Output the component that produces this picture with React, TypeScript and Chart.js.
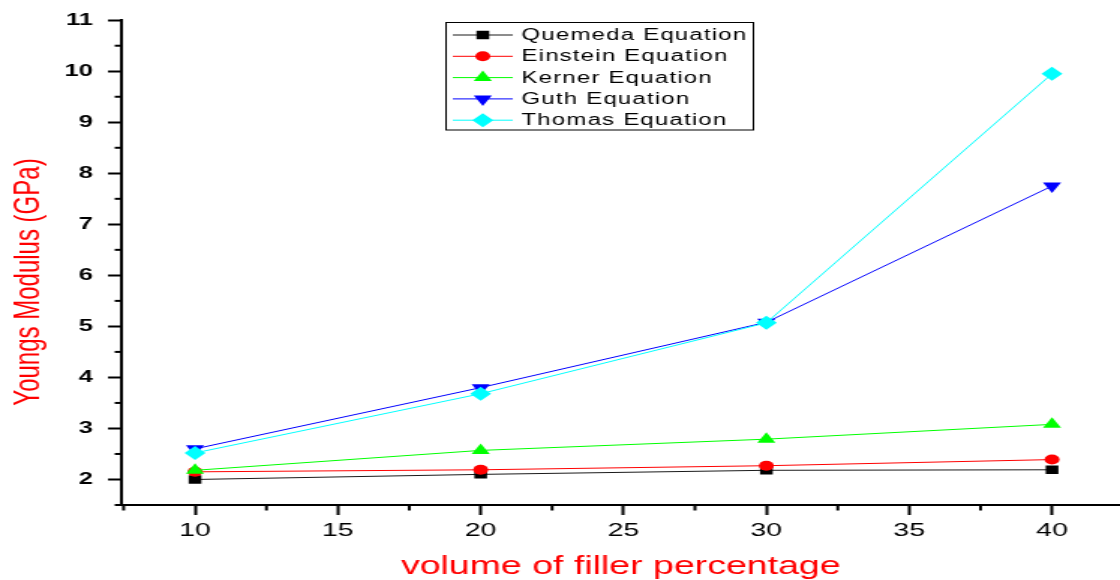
import React, { useEffect, useRef } from 'react';
import { Chart, registerables } from 'chart.js';

Chart.register(...registerables);

// ---- data ----
const X_VALUES = [10, 20, 30, 40];
const QUEMEDA = [2.0, 2.1, 2.18, 2.19];
const EINSTEIN = [2.15, 2.19, 2.27, 2.39];
const KERNER = [2.18, 2.57, 2.79, 3.08];
const GUTH = [2.6, 3.8, 5.08, 7.75];
const THOMAS = [2.52, 3.68, 5.07, 9.95];
const SERIES_NAMES = ['Quemeda Equation', 'Einstein Equation', 'Kerner Equation', 'Guth Equation', 'Thomas Equation'];
const X_TICKS = [10, 15, 20, 25, 30, 35, 40];
const Y_TICKS = [2, 3, 4, 5, 6, 7, 8, 9, 10, 11];
const X_TITLE = 'volume of filler percentage';
const Y_TITLE = 'Youngs Modulus (GPa)';

// ---- styles ----
const COLORS = ['#000000', '#ff0000', '#00ff00', '#0000ff', '#00ffff'];
const LINE_COLORS = ['#1a1a1a', '#ff0000', '#00ff00', '#0000ff', '#00ffff'];
const POINT_STYLES = ['rect', 'circle', 'triangle', 'triangle', 'rectRot'];
const POINT_RADII = [6, 5, 7, 7, 7];
const POINT_ROT = [0, 0, 0, 180, 0];

const CANVAS_W = 747;
const CANVAS_H = 580;
const STRETCH = 1120 / CANVAS_W;

function drawMarker(ctx: CanvasRenderingContext2D, style: string, x: number, y: number, r: number, rotDeg: number) {
  ctx.beginPath();
  if (style === 'circle') {
    ctx.arc(x, y, r, 0, Math.PI * 2);
  } else if (style === 'rect') {
    const s = r * Math.SQRT1_2;
    ctx.rect(x - s, y - s, 2 * s, 2 * s);
  } else if (style === 'rectRot') {
    ctx.moveTo(x, y - r);
    ctx.lineTo(x + r, y);
    ctx.lineTo(x, y + r);
    ctx.lineTo(x - r, y);
    ctx.closePath();
  } else {
    let a = (rotDeg * Math.PI) / 180;
    ctx.moveTo(x + Math.sin(a) * r, y - Math.cos(a) * r);
    a += (2 * Math.PI) / 3;
    ctx.lineTo(x + Math.sin(a) * r, y - Math.cos(a) * r);
    a += (2 * Math.PI) / 3;
    ctx.lineTo(x + Math.sin(a) * r, y - Math.cos(a) * r);
    ctx.closePath();
  }
  ctx.fill();
}

const decorPlugin = {
  id: 'decor',
  afterDraw(chart: any) {
    const { ctx, chartArea, scales } = chart;
    const xs = scales.x;
    const ys = scales.y;
    ctx.save();
    // minor ticks
    ctx.strokeStyle = '#000';
    ctx.lineWidth = 2;
    Y_TICKS.forEach((v) => {
      const m = v - 0.5;
      if (m < ys.min - 1e-9 || m > ys.max) return;
      const py = ys.getPixelForValue(m);
      ctx.beginPath();
      ctx.moveTo(chartArea.left - 4.5, py);
      ctx.lineTo(chartArea.left, py);
      ctx.stroke();
    });
    X_TICKS.forEach((v) => {
      const m = v - 2.5;
      if (m < xs.min - 1e-9 || m > xs.max) return;
      const px = xs.getPixelForValue(m);
      ctx.beginPath();
      ctx.moveTo(px, chartArea.bottom);
      ctx.lineTo(px, chartArea.bottom + 5.5);
      ctx.stroke();
    });

    // y axis title
    ctx.save();
    ctx.translate(25.5, 282);
    ctx.rotate(-Math.PI / 2);
    ctx.fillStyle = '#ff0000';
    ctx.font = '24px Arial, "Liberation Sans", sans-serif';
    ctx.textAlign = 'center';
    ctx.textBaseline = 'alphabetic';
    ctx.fillText(Y_TITLE, 0, 0);
    ctx.restore();

    // legend
    const bx = 297.5, by = 22.5, bw = 205, bh = 107.5;
    ctx.fillStyle = '#ffffff';
    ctx.fillRect(bx, by, bw, bh);
    ctx.strokeStyle = '#000';
    ctx.lineWidth = 1;
    ctx.strokeRect(bx, by, bw, bh);
    chart.data.datasets.forEach((ds: any, i: number) => {
      const yy = 35 + i * 21.3;
      ctx.strokeStyle = LINE_COLORS[i];
      ctx.lineWidth = 1;
      ctx.beginPath();
      ctx.moveTo(302, yy);
      ctx.lineTo(342, yy);
      ctx.stroke();
      ctx.fillStyle = COLORS[i];
      drawMarker(ctx, POINT_STYLES[i], 322, yy, POINT_RADII[i], POINT_ROT[i]);
      ctx.fillStyle = '#000';
      ctx.font = '16px Arial, "Liberation Sans", sans-serif';
      (ctx as any).letterSpacing = '0.8px';
      ctx.textAlign = 'left';
      ctx.textBaseline = 'middle';
      ctx.fillText(ds.label, 347.8, yy + 0.5);
      (ctx as any).letterSpacing = '0px';
    });
    ctx.restore();
  },
};

export default function App() {
  const ref = useRef<HTMLCanvasElement | null>(null);

  useEffect(() => {
    if (!ref.current) return;
    const series = [QUEMEDA, EINSTEIN, KERNER, GUTH, THOMAS];
    const chart = new Chart(ref.current, {
      type: 'line',
      data: {
        datasets: series.map((vals, i) => ({
          label: SERIES_NAMES[i],
          data: X_VALUES.map((x, j) => ({ x, y: vals[j] })),
          borderColor: LINE_COLORS[i],
          backgroundColor: COLORS[i],
          borderWidth: 1,
          pointStyle: POINT_STYLES[i] as any,
          pointRadius: POINT_RADII[i],
          pointRotation: POINT_ROT[i],
          pointBackgroundColor: COLORS[i],
          pointBorderColor: COLORS[i],
          pointBorderWidth: 0,
          tension: 0,
          fill: false,
          order: 4 - i,
        })),
      },
      options: {
        responsive: false,
        animation: false,
        events: [],
        layout: { autoPadding: false, padding: { top: 20, left: 0, right: 0, bottom: 0 } },
        plugins: {
          legend: { display: false },
          tooltip: { enabled: false },
          title: { display: false },
        },
        scales: {
          x: {
            type: 'linear',
            min: 7.425,
            max: 42.38,
            afterFit: (s: any) => {
              s.height = 75;
            },
            afterBuildTicks: (s: any) => {
              s.ticks = X_TICKS.map((v) => ({ value: v }));
            },
            border: { display: true, color: '#000', width: 2 },
            grid: {
              display: true,
              drawOnChartArea: false,
              drawTicks: true,
              tickLength: 10,
              tickWidth: 2,
              tickColor: '#000',
            },
            ticks: {
              color: '#000',
              font: { family: 'Arial', size: 19, weight: 'normal' },
              padding: 4,
              maxRotation: 0,
              autoSkip: false,
              callback: (v: any) => String(v),
            },
            title: {
              display: true,
              text: X_TITLE,
              color: '#ff0000',
              font: { family: 'Arial', size: 25, lineHeight: 1 },
              padding: 0,
            },
          },
          y: {
            type: 'linear',
            min: 1.5,
            max: 11,
            afterFit: (s: any) => {
              s.width = 81;
            },
            afterBuildTicks: (s: any) => {
              s.ticks = Y_TICKS.map((v) => ({ value: v }));
            },
            border: { display: true, color: '#000', width: 2 },
            grid: {
              display: true,
              drawOnChartArea: false,
              drawTicks: true,
              tickLength: 9,
              tickWidth: 2,
              tickColor: '#000',
            },
            ticks: {
              color: '#000',
              font: { family: 'Arial', size: 17, weight: 'bold' },
              padding: 10,
              autoSkip: false,
              callback: (v: any) => String(v),
            },
            title: { display: false },
          },
        },
      },
      plugins: [decorPlugin],
    });
    return () => chart.destroy();
  }, []);

  return (
    <div
      style={{
        position: 'fixed',
        left: 0,
        top: 0,
        width: CANVAS_W,
        height: CANVAS_H,
        transform: `scaleX(${STRETCH})`,
        transformOrigin: '0 0',
      }}
    >
      <canvas
        ref={ref}
        width={CANVAS_W}
        height={CANVAS_H}
        style={{ display: 'block', width: CANVAS_W, height: CANVAS_H }}
      />
    </div>
  );
}
